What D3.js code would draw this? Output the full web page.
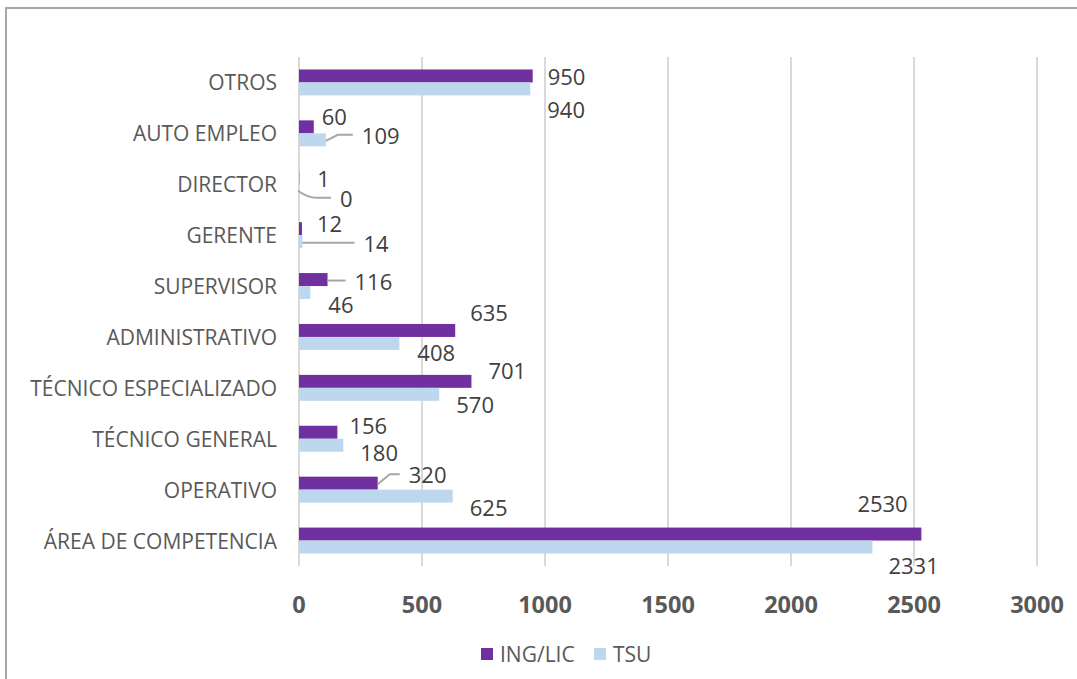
<!DOCTYPE html>
<html>
<head>
<meta charset="utf-8">
<script src="https://cdn.jsdelivr.net/npm/d3@7"></script>
<style>
  html, body { margin: 0; padding: 0; background: #fff; }
  svg { display: block; }
</style>
</head>
<body>
<svg id="chart" width="1077" height="679"></svg>
<script>
// ---- data ----
const categories = ["OTROS", "AUTO EMPLEO", "DIRECTOR", "GERENTE", "SUPERVISOR",
  "ADMINISTRATIVO", "TÉCNICO ESPECIALIZADO", "TÉCNICO GENERAL", "OPERATIVO", "ÁREA DE COMPETENCIA"];
const ingLic = [950, 60, 1, 12, 116, 635, 701, 156, 320, 2530];
const tsu    = [940, 109, 0, 14, 46, 408, 570, 180, 625, 2331];
const seriesNames = ["ING/LIC", "TSU"];
const xTicks = [0, 500, 1000, 1500, 2000, 2500, 3000];

// ---- label layout (pixel offsets from bar end / bar centre) ----
const labelOffsetsIng = [[15,0],[8,-11],[18,0],[15,-6],[27,1],[15,-18],[17,-11],[12,-7],[31,-9],[-64,-31]];
const labelOffsetsTsu = [[17,20],[36,-5],[41,7],[61,1],[18,11],[18,9],[17,10],[17,7],[17,11],[16,18]];
const leaderIng = [null,null,null,null,"h",null,null,null,"bend",null];
const leaderTsu = [null,"bend","bendDown","h",null,null,null,null,null,null];

const colors = ["#7030A0", "#BDD7EE"];
const svg = d3.select("#chart");
const fontFam = "'Open Sans', sans-serif";

// frame
svg.append("rect").attr("x", 6).attr("y", 8).attr("width", 1090).attr("height", 700)
  .attr("fill", "none").attr("stroke", "#a6a6a6").attr("stroke-width", 2);

const x = d3.scaleLinear().domain([0, 3000]).range([299, 1037]);
const y = d3.scaleBand().domain(categories).range([57, 566]).paddingInner(0.49).paddingOuter(0.245);
const barH = y.bandwidth() / 2;

// gridlines
svg.append("g").selectAll("line").data(xTicks).join("line")
  .attr("x1", d => x(d)).attr("x2", d => x(d))
  .attr("y1", 57).attr("y2", 566)
  .attr("stroke", "#d9d9d9").attr("stroke-width", 2);

// x tick labels
svg.append("g").selectAll("text").data(xTicks).join("text")
  .attr("x", d => x(d)).attr("y", 604)
  .attr("text-anchor", "middle").attr("dominant-baseline", "central")
  .attr("font-family", fontFam).attr("font-size", 23.5).attr("font-weight", "bold")
  .attr("fill", "#595959").text(d => d);

// category labels
svg.append("g").selectAll("text").data(categories).join("text")
  .attr("x", 277).attr("y", d => y(d) + y.bandwidth() / 2)
  .attr("text-anchor", "end").attr("dominant-baseline", "central")
  .attr("font-family", fontFam).attr("font-size", 21)
  .attr("fill", "#595959").text(d => d);

const series = [ingLic, tsu];
const offsets = [labelOffsetsIng, labelOffsetsTsu];
const leaders = [leaderIng, leaderTsu];

series.forEach((vals, s) => {
  const g = svg.append("g");
  g.selectAll("rect").data(vals).join("rect")
    .attr("x", x(0))
    .attr("y", (d, i) => y(categories[i]) + s * barH)
    .attr("width", d => x(d) - x(0))
    .attr("height", barH)
    .attr("fill", colors[s]);

  // leader lines
  vals.forEach((d, i) => {
    const kind = leaders[s][i];
    if (!kind) return;
    const bx = x(d), by = y(categories[i]) + s * barH + barH / 2;
    const [dx, dy] = offsets[s][i];
    const ty = by + dy;
    const tx = bx + dx - 9;
    let path;
    if (kind === "h") {
      path = `M${bx},${ty} L${tx},${ty}`;
    } else if (kind === "bend") {
      path = `M${bx},${by + 1} L${bx + 12},${ty} L${tx},${ty}`;
    } else {
      path = `M${bx - 1},${by} Q${bx + 10},${ty + 1} ${bx + 20},${ty} L${tx},${ty}`;
    }
    g.append("path").attr("d", path).attr("fill", "none")
      .attr("stroke", "#a6a6a6").attr("stroke-width", 2);
  });

  g.selectAll("text").data(vals).join("text")
    .attr("x", (d, i) => x(d) + offsets[s][i][0])
    .attr("y", (d, i) => y(categories[i]) + s * barH + barH / 2 + offsets[s][i][1])
    .attr("dominant-baseline", "central")
    .attr("font-family", fontFam).attr("font-size", 22)
    .attr("fill", "#404040").text(d => d);
});

// legend
const legend = svg.append("g");
const legendItems = [{x: 481, tx: 500}, {x: 594, tx: 613}];
seriesNames.forEach((n, i) => {
  legend.append("rect").attr("x", legendItems[i].x).attr("y", 648).attr("width", 12).attr("height", 12)
    .attr("fill", colors[i]);
  legend.append("text").attr("x", legendItems[i].tx).attr("y", 654)
    .attr("dominant-baseline", "central")
    .attr("font-family", fontFam).attr("font-size", 21)
    .attr("fill", "#595959").text(n);
});
</script>
</body>
</html>
